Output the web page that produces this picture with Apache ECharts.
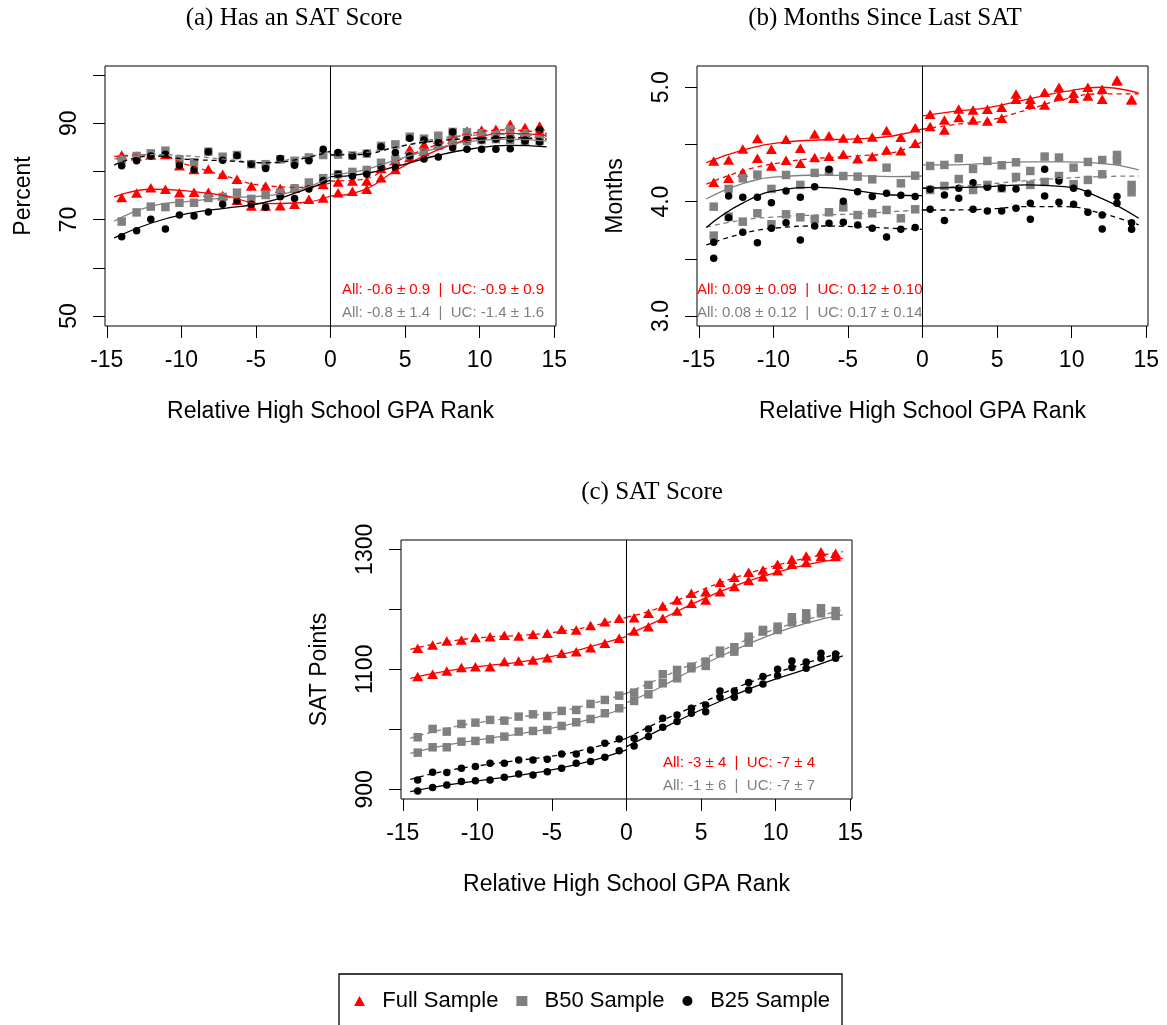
<!DOCTYPE html>
<html>
<head>
<meta charset="utf-8">
<script src="https://cdn.jsdelivr.net/npm/echarts@6/dist/echarts.min.js"></script>
<style>
html,body{margin:0;padding:0;background:#fff;}
#chart{width:1167px;height:1025px;}
</style>
</head>
<body>
<div id="chart"></div>
<script>
// ---------- x positions (bin centres) ----------
const X_LEFT  = [-14.0, -13.0, -12.05, -11.07, -10.13, -9.15, -8.19, -7.23, -6.27, -5.31, -4.35, -3.37, -2.41, -1.45, -0.49];
const X_RIGHT = [0.51, 1.47, 2.43, 3.39, 4.35, 5.31, 6.27, 7.23, 8.19, 9.15, 10.13, 11.09, 12.05, 13.04, 14.02];
const FIT_X_LEFT  = [-14.5, -12, -9.5, -7, -4.5, -2, 0];
const FIT_X_RIGHT = [0, 2, 4.5, 7, 9.5, 12, 14.5];

// ---------- tick values ----------
const X_TICKS = [-15, -10, -5, 0, 5, 10, 15];
const A_Y_TICKS = [50, 60, 70, 80, 90, 100];
const A_Y_LABELS = [50, 70, 90];
const B_Y_TICKS = [3.0, 3.5, 4.0, 4.5, 5.0];
const B_Y_LABELS = [3.0, 4.0, 5.0];
const C_Y_TICKS = [900, 1000, 1100, 1200, 1300];
const C_Y_LABELS = [900, 1100, 1300];

// ---------- Panel (a) Has an SAT Score (percent) ----------
const A_fullSolid = [74.6, 75.5, 76.6, 76.3, 75.6, 75.7, 75.7, 75.0, 74.0, 72.8, 72.8, 72.9, 73.2, 74.2, 74.5,
                     75.6, 75.9, 76.3, 78.7, 80.4, 82.9, 84.2, 85.6, 86.7, 87.2, 87.5, 87.7, 87.9, 88.1, 87.9];
const A_fullDash  = [83.4, 83.2, 83.4, 83.5, 81.2, 80.4, 80.5, 79.4, 78.4, 77.0, 77.0, 76.5, 76.5, 77.5, 77.3,
                     77.8, 78.0, 78.0, 80.6, 82.3, 84.6, 85.6, 86.7, 87.7, 88.4, 88.6, 88.75, 89.8, 89.1, 89.4];
const A_b50Solid  = [69.6, 71.5, 72.7, 72.6, 73.5, 73.5, 74.5, 74.7, 75.6, 74.3, 75.1, 75.6, 76.5, 77.7, 78.6,
                     79.4, 79.9, 80.3, 81.8, 82.5, 83.3, 84.0, 85.3, 86.1, 86.3, 86.5, 86.7, 86.5, 86.3, 86.3];
const A_b50Dash   = [82.5, 83.2, 83.75, 84.3, 82.5, 81.9, 84.1, 83.05, 83.4, 81.5, 81.5, 82.5, 82.2, 82.9, 83.4,
                     83.5, 83.3, 83.7, 85.3, 85.6, 87.2, 86.8, 87.4, 88.2, 88.1, 87.9, 87.7, 88.75, 87.9, 87.5];
const A_b25Solid  = [66.45, 67.7, 70.1, 68.05, 70.95, 70.75, 71.6, 73.2, 73.9, 73.2, 72.55, 74.75, 74.4, 76.35, 78.1,
                     79.4, 79.0, 79.4, 80.8, 80.8, 83.2, 82.6, 83.0, 84.9, 84.6, 84.6, 84.6, 84.7, 86.3, 86.1];
const A_b25Dash   = [81.2, 82.2, 83.2, 83.55, 81.3, 80.4, 84.1, 82.3, 83.3, 81.5, 80.6, 82.7, 81.3, 82.2, 84.6,
                     83.9, 83.2, 83.7, 85.1, 83.9, 86.9, 86.5, 86.0, 88.2, 86.7, 86.5, 86.7, 86.7, 86.5, 88.6];
const A_fullSolidFitL = [74.7, 76.3, 75.9, 74.9, 73.3, 73.5, 74.9];
const A_fullSolidFitR = [74.9, 75.9, 80.4, 84.2, 86.8, 87.9, 87.5];
const A_fullDashFitL  = [83.1, 83.5, 81.3, 79.0, 77.1, 76.7, 77.6];
const A_fullDashFitR  = [78.0, 78.3, 82.2, 85.4, 87.9, 88.6, 87.9];
const A_b50SolidFitL  = [69.7, 72.8, 73.8, 74.5, 74.9, 76.3, 78.9];
const A_b50SolidFitR  = [79.4, 80.1, 82.5, 84.7, 86.3, 86.7, 86.3];
const A_b50DashFitL   = [82.6, 83.5, 83.2, 82.5, 81.8, 82.9, 83.8];
const A_b50DashFitR   = [83.5, 83.8, 85.1, 86.7, 87.5, 87.7, 87.2];
const A_b25SolidFitL  = [66.2, 69.3, 71.3, 72.4, 73.5, 75.9, 78.2];
const A_b25SolidFitR  = [78.9, 79.4, 81.1, 83.2, 84.7, 85.4, 85.1];
const A_b25DashFitL   = [81.3, 83.2, 82.5, 82.2, 81.8, 82.6, 84.2];
const A_b25DashFitR   = [83.4, 83.5, 85.1, 86.3, 86.8, 87.0, 86.7];

// ---------- Panel (b) Months Since Last SAT ----------
const B_fullSolid = [4.356, 4.364, 4.461, 4.551, 4.458, 4.545, 4.466, 4.592, 4.577, 4.557, 4.551, 4.566, 4.621, 4.563, 4.647,
                     4.764, 4.714, 4.810, 4.802, 4.808, 4.825, 4.942, 4.895, 4.956, 5.000, 4.948, 5.000, 4.983, 5.064, 4.895];
const B_fullDash  = [4.169, 4.204, 4.257, 4.379, 4.312, 4.362, 4.335, 4.385, 4.397, 4.414, 4.376, 4.394, 4.452, 4.446, 4.510,
                     4.656, 4.627, 4.735, 4.714, 4.706, 4.729, 4.895, 4.851, 4.845, 4.924, 4.904, 4.924, 4.895, 5.055, 4.889];
const B_b50Solid  = [3.956, 4.111, 4.204, 4.236, 4.111, 4.233, 4.146, 4.251, 4.262, 4.224, 4.219, 4.195, 4.297, 4.160, 4.227,
                     4.312, 4.321, 4.379, 4.286, 4.356, 4.318, 4.344, 4.268, 4.394, 4.385, 4.297, 4.347, 4.364, 4.408, 4.146];
const B_b50Dash   = [3.703, 3.869, 3.825, 3.898, 3.802, 3.889, 3.863, 3.848, 3.907, 3.950, 3.883, 3.898, 3.927, 3.854, 3.933,
                     4.102, 4.137, 4.198, 4.102, 4.146, 4.117, 4.216, 4.146, 4.172, 4.224, 4.152, 4.190, 4.239, 4.359, 4.082];
const B_b25Solid  = [3.504, 4.050, 4.038, 4.038, 3.991, 4.093, 4.038, 4.131, 4.283, 4.003, 4.087, 4.044, 4.073, 4.055, 4.044,
                     4.108, 4.058, 4.117, 4.166, 4.125, 4.117, 4.111, 3.985, 4.283, 4.181, 4.117, 4.073, 3.883, 4.044, 3.816];
const B_b25Dash   = [3.644, 3.860, 3.732, 3.641, 3.767, 3.816, 3.665, 3.787, 3.810, 3.819, 3.796, 3.767, 3.691, 3.758, 3.773,
                     3.933, 3.834, 4.029, 3.933, 3.918, 3.918, 3.942, 3.845, 4.050, 3.994, 3.977, 3.907, 3.761, 3.985, 3.758];
const B_fullSolidFitL = [4.341, 4.452, 4.516, 4.539, 4.548, 4.574, 4.636];
const B_fullSolidFitR = [4.749, 4.787, 4.825, 4.895, 4.962, 5.000, 4.948];
const B_fullDashFitL  = [4.152, 4.271, 4.341, 4.379, 4.399, 4.429, 4.525];
const B_fullDashFitR  = [4.633, 4.671, 4.714, 4.802, 4.895, 4.942, 4.942];
const B_b50SolidFitL  = [4.023, 4.160, 4.219, 4.233, 4.227, 4.219, 4.224];
const B_b50SolidFitR  = [4.321, 4.321, 4.335, 4.347, 4.347, 4.335, 4.277];
const B_b50DashFitL   = [3.776, 3.840, 3.869, 3.883, 3.892, 3.913, 3.927];
const B_b50DashFitR   = [4.117, 4.131, 4.155, 4.184, 4.204, 4.219, 4.224];
const B_b25SolidFitL  = [3.773, 3.991, 4.102, 4.125, 4.096, 4.058, 4.052];
const B_b25SolidFitR  = [4.117, 4.122, 4.131, 4.146, 4.131, 4.029, 3.854];
const B_b25DashFitL   = [3.621, 3.723, 3.773, 3.787, 3.781, 3.767, 3.758];
const B_b25DashFitR   = [3.927, 3.927, 3.936, 3.956, 3.956, 3.898, 3.796];

// ---------- Panel (c) SAT Score ----------
const C_fullSolid = [1087.8, 1091.7, 1097.2, 1102.8, 1104.4, 1104.4, 1112.8, 1113.9, 1115.6, 1119.4, 1126.7, 1129.4, 1136.1, 1143.3, 1151.7,
                     1163.9, 1171.1, 1185.0, 1197.2, 1210.0, 1215.6, 1229.4, 1237.8, 1247.8, 1254.4, 1264.4, 1275.0, 1277.8, 1287.8, 1287.8];
const C_fullDash  = [1135.0, 1140.6, 1147.2, 1148.9, 1152.8, 1154.4, 1156.7, 1155.6, 1158.3, 1160.0, 1166.7, 1165.6, 1172.8, 1179.4, 1185.0,
                     1186.1, 1193.3, 1205.6, 1215.6, 1226.7, 1229.4, 1245.0, 1253.3, 1261.7, 1265.6, 1275.0, 1283.3, 1288.9, 1296.1, 1293.3];
const C_b50Solid  = [961.1, 970.0, 970.0, 979.4, 980.6, 983.3, 987.8, 996.1, 997.2, 998.9, 1005.6, 1011.7, 1017.2, 1026.7, 1035.0,
                     1047.2, 1058.3, 1076.7, 1085.0, 1101.7, 1105.6, 1126.7, 1129.4, 1144.4, 1162.8, 1165.6, 1178.3, 1183.3, 1193.3, 1188.9];
const C_b50Dash   = [986.7, 1000.6, 996.1, 1008.9, 1011.1, 1015.6, 1014.4, 1021.1, 1025.0, 1022.2, 1030.6, 1032.2, 1042.2, 1048.9, 1056.1,
                     1061.1, 1073.9, 1091.7, 1098.9, 1104.4, 1112.8, 1131.1, 1136.7, 1154.4, 1165.6, 1171.1, 1186.7, 1193.3, 1201.7, 1197.2];
const C_b25Solid  = [897.2, 902.8, 907.2, 912.8, 914.4, 915.6, 920.0, 925.6, 923.9, 929.4, 935.0, 943.3, 946.1, 953.3, 964.4,
                     972.2, 987.8, 1003.3, 1012.8, 1026.7, 1029.4, 1053.3, 1053.3, 1065.6, 1075.6, 1089.4, 1102.8, 1101.7, 1118.3, 1118.3];
const C_b25Dash   = [915.6, 928.3, 927.8, 935.0, 937.8, 943.3, 943.3, 948.9, 948.9, 950.0, 958.9, 958.9, 965.6, 976.7, 983.9,
                     985.0, 1000.6, 1018.3, 1023.9, 1035.0, 1040.6, 1063.9, 1063.9, 1077.8, 1087.8, 1100.0, 1113.9, 1112.2, 1126.7, 1125.6];
const C_fullSolidFitL = [1085.0, 1097.2, 1105.6, 1112.8, 1123.9, 1140.6, 1154.4];
const C_fullSolidFitR = [1157.2, 1179.4, 1210.0, 1236.7, 1257.2, 1273.9, 1285.0];
const C_fullDashFitL  = [1133.3, 1146.1, 1153.3, 1156.7, 1162.8, 1173.9, 1186.7];
const C_fullDashFitR  = [1186.7, 1200.6, 1226.7, 1250.6, 1269.4, 1285.0, 1296.1];
const C_b50SolidFitL  = [960.0, 973.9, 983.9, 993.3, 1004.4, 1020.0, 1036.7];
const C_b50SolidFitR  = [1044.4, 1066.7, 1100.0, 1129.4, 1155.6, 1176.7, 1190.6];
const C_b50DashFitL   = [985.0, 1001.7, 1012.8, 1021.1, 1029.4, 1045.0, 1060.0];
const C_b50DashFitR   = [1060.0, 1082.2, 1110.0, 1137.8, 1162.8, 1182.2, 1198.9];
const C_b25SolidFitL  = [896.1, 907.2, 915.6, 923.9, 935.0, 950.0, 965.6];
const C_b25SolidFitR  = [971.1, 996.1, 1026.7, 1054.4, 1079.4, 1100.0, 1122.2];
const C_b25DashFitL   = [916.7, 931.1, 940.6, 948.9, 957.2, 971.1, 985.0];
const C_b25DashFitR   = [985.0, 1010.0, 1037.8, 1065.6, 1089.4, 1110.0, 1128.3];

// ---------- texts ----------
const TITLES = ['(a) Has an SAT Score', '(b) Months Since Last SAT', '(c) SAT Score'];
const Y_NAMES = ['Percent', 'Months', 'SAT Points'];
const X_NAME = 'Relative High School GPA Rank';
const NOTES_RED  = ['All: -0.6 \u00b1 0.9  |  UC: -0.9 \u00b1 0.9', 'All: 0.09 \u00b1 0.09  |  UC: 0.12 \u00b1 0.10', 'All: -3 \u00b1 4  |  UC: -7 \u00b1 4'];
const NOTES_GRAY = ['All: -0.8 \u00b1 1.4  |  UC: -1.4 \u00b1 1.6', 'All: 0.08 \u00b1 0.12  |  UC: 0.17 \u00b1 0.14', 'All: -1 \u00b1 6  |  UC: -7 \u00b1 7'];
const LEGEND_NAMES = ['Full Sample', 'B50 Sample', 'B25 Sample'];

// ---------- assemble ----------
const SANS = '"Liberation Sans", Arial, sans-serif';
const SERIF = '"Liberation Serif", "Times New Roman", serif';
const SAMPLES = [
  {name: LEGEND_NAMES[0], symbol: 'triangle', size: [11, 9.5], color: '#ff0000'},
  {name: LEGEND_NAMES[1], symbol: 'rect', size: 8.5, color: '#808080'},
  {name: LEGEND_NAMES[2], symbol: 'circle', size: 7.5, color: '#000000'}
];
const PANELS = [
  {grid: {left: 105, top: 66, width: 451, height: 260}, ymin: 47.93, ymax: 101.87, yTicks: A_Y_TICKS, yLabels: A_Y_LABELS, fmt: v => String(v),
   groups: [[A_fullSolid, A_fullDash, A_fullSolidFitL, A_fullSolidFitR, A_fullDashFitL, A_fullDashFitR],
            [A_b50Solid, A_b50Dash, A_b50SolidFitL, A_b50SolidFitR, A_b50DashFitL, A_b50DashFitR],
            [A_b25Solid, A_b25Dash, A_b25SolidFitL, A_b25SolidFitR, A_b25DashFitL, A_b25DashFitR]],
   title: [294, 18], notes: {x: 544, align: 'right', y: [290, 313]}},
  {grid: {left: 697, top: 66, width: 451, height: 260}, ymin: 2.9125, ymax: 5.186, yTicks: B_Y_TICKS, yLabels: B_Y_LABELS, fmt: v => Number(v).toFixed(1),
   groups: [[B_fullSolid, B_fullDash, B_fullSolidFitL, B_fullSolidFitR, B_fullDashFitL, B_fullDashFitR],
            [B_b50Solid, B_b50Dash, B_b50SolidFitL, B_b50SolidFitR, B_b50DashFitL, B_b50DashFitR],
            [B_b25Solid, B_b25Dash, B_b25SolidFitL, B_b25SolidFitR, B_b25DashFitL, B_b25DashFitR]],
   title: [885, 18], notes: {x: 697, align: 'left', y: [290, 313]}},
  {grid: {left: 401, top: 540, width: 451, height: 259}, ymin: 883.8, ymax: 1315.5, yTicks: C_Y_TICKS, yLabels: C_Y_LABELS, fmt: v => String(v),
   groups: [[C_fullSolid, C_fullDash, C_fullSolidFitL, C_fullSolidFitR, C_fullDashFitL, C_fullDashFitR],
            [C_b50Solid, C_b50Dash, C_b50SolidFitL, C_b50SolidFitR, C_b50DashFitL, C_b50DashFitR],
            [C_b25Solid, C_b25Dash, C_b25SolidFitL, C_b25SolidFitR, C_b25DashFitL, C_b25DashFitR]],
   title: [652, 492], notes: {x: 663, align: 'left', y: [763, 786]}}
];

const X_ALL = X_LEFT.concat(X_RIGHT);
const pair = (xs, ys) => xs.map((x, i) => [x, ys[i]]);

const grids = [], xAxes = [], yAxes = [], series = [], graphics = [];
PANELS.forEach((p, pi) => {
  grids.push(Object.assign({show: true, borderColor: '#000', borderWidth: 1, backgroundColor: 'transparent'}, p.grid));
  xAxes.push({
    gridIndex: pi, type: 'value', min: -15.12, max: 15.12, position: 'bottom',
    axisLine: {show: false, onZero: false},
    axisTick: {show: true, length: 12, customValues: X_TICKS, lineStyle: {color: '#000', width: 1}},
    axisLabel: {customValues: X_TICKS, fontSize: 23, color: '#000', fontFamily: SANS, margin: 23},
    splitLine: {show: false},
    name: X_NAME, nameLocation: 'middle', nameGap: 74,
    nameTextStyle: {fontSize: 23, color: '#000', fontFamily: SANS}
  });
  yAxes.push({
    gridIndex: pi, type: 'value', min: p.ymin, max: p.ymax, position: 'left',
    axisLine: {show: false, onZero: false},
    axisTick: {show: true, length: 12, customValues: p.yTicks, lineStyle: {color: '#000', width: 1}},
    axisLabel: {customValues: p.yLabels, rotate: 90, fontSize: 23, color: '#000', fontFamily: SANS, margin: 24, formatter: p.fmt},
    splitLine: {show: false},
    name: Y_NAMES[pi], nameLocation: 'middle', nameGap: 70, nameRotate: 90,
    nameTextStyle: {fontSize: 23, color: '#000', fontFamily: SANS}
  });
  p.groups.forEach((g, gi) => {
    const s = SAMPLES[gi];
    [0, 1].forEach(k => {
      const sc = {
        type: 'scatter', name: s.name, xAxisIndex: pi, yAxisIndex: pi,
        symbol: s.symbol, symbolSize: s.size, itemStyle: {color: s.color, opacity: 1},
        data: pair(X_ALL, g[k]), silent: true, z: 2
      };
      if (gi === 0 && k === 0) {
        sc.markLine = {silent: true, symbol: ['none', 'none'], label: {show: false},
          lineStyle: {color: '#000', width: 1, type: 'solid', opacity: 1}, data: [{xAxis: 0}]};
      }
      series.push(sc);
      const lt = k === 0 ? 'solid' : [5, 4];
      const fl = g[2 + k * 2], fr = g[3 + k * 2];
      [[FIT_X_LEFT, fl], [FIT_X_RIGHT, fr]].forEach(([xs, ys], side) => {
        series.push({
          type: 'line', name: 'fit-' + pi + '-' + gi + '-' + k + '-' + side, xAxisIndex: pi, yAxisIndex: pi,
          data: pair(xs, ys), showSymbol: false, smooth: 0.5, silent: true, z: 3,
          lineStyle: {color: s.color, width: 1.3, type: lt}
        });
      });
    });
  });
  graphics.push({type: 'text', x: p.title[0], y: p.title[1], silent: true,
    style: {text: TITLES[pi], font: '25px ' + SERIF, fill: '#000', align: 'center', verticalAlign: 'middle'}});
  graphics.push({type: 'text', x: p.notes.x, y: p.notes.y[0], silent: true, z: 10,
    style: {text: NOTES_RED[pi], font: '15px ' + SANS, fill: '#ff0000', align: p.notes.align, verticalAlign: 'middle'}});
  graphics.push({type: 'text', x: p.notes.x, y: p.notes.y[1], silent: true, z: 10,
    style: {text: NOTES_GRAY[pi], font: '15px ' + SANS, fill: '#808080', align: p.notes.align, verticalAlign: 'middle'}});
});

const chart = echarts.init(document.getElementById('chart'), null, {renderer: 'canvas'});
chart.setOption({
  animation: false,
  backgroundColor: '#ffffff',
  grid: grids, xAxis: xAxes, yAxis: yAxes, series: series,
  graphic: graphics,
  legend: {
    data: LEGEND_NAMES.map((n, i) => ({name: n, icon: SAMPLES[i].symbol, itemStyle: {color: SAMPLES[i].color, opacity: 1}})),
    left: 339, top: 974, orient: 'horizontal', selectedMode: false,
    itemWidth: 11, itemHeight: 10, itemGap: 18,
    formatter: n => '  ' + n,
    padding: [16, 12, 40, 15],
    borderColor: '#000', borderWidth: 1.3,
    textStyle: {fontSize: 22, color: '#000', fontFamily: SANS}
  }
});
</script>
</body>
</html>
